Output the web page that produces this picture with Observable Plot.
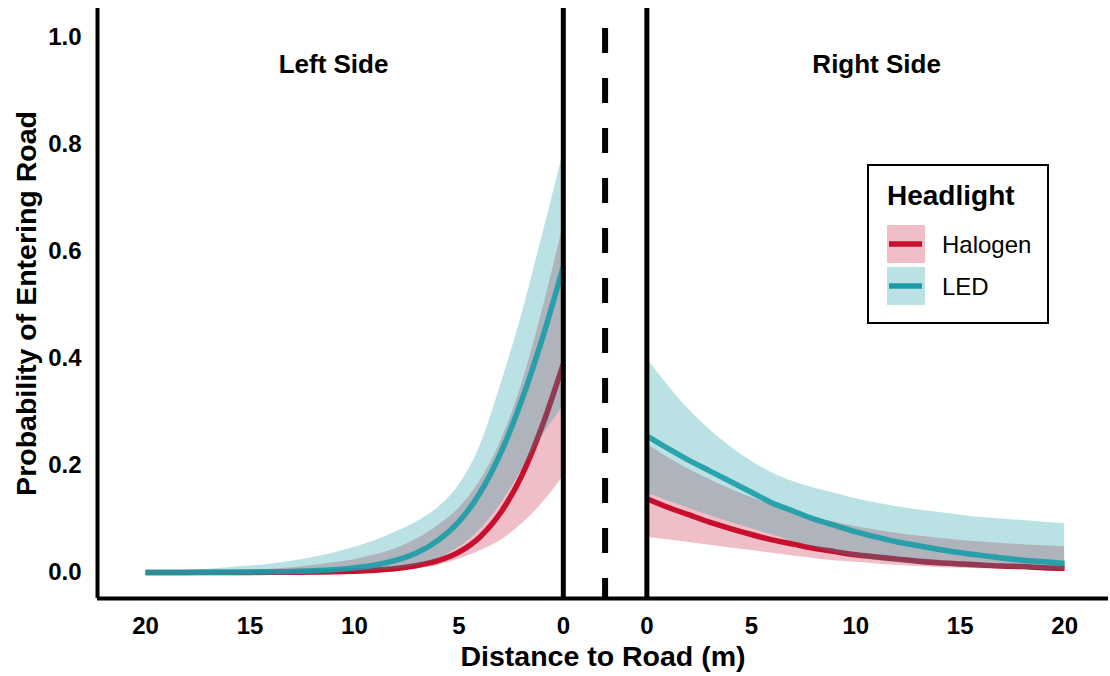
<!DOCTYPE html>
<html>
<head>
<meta charset="utf-8">
<script src="https://cdn.jsdelivr.net/npm/d3@7"></script>
<script src="https://cdn.jsdelivr.net/npm/@observablehq/plot@0.6"></script>
<style>
  body { margin: 0; background: #fff; }
  #chart { position: relative; width: 1110px; height: 676px; font-family: "Liberation Sans", Arial, sans-serif; }
  #legend { position: absolute; left: 867px; top: 164px; }
</style>
</head>
<body>
<div id="chart"></div>
<script>
// Distance from the road edge (m), the same grid on both sides
const distance = [0,1,2,3,4,5,6,7,8,9,10,11,12,13,14,15,16,17,18,19,20];

// Left side: predicted probability and 95% band
const ledLeftMean  = [0.572,0.438,0.321,0.223,0.148,0.095,0.06,0.037,0.023,0.014,0.0086,0.0052,0.0032,0.0019,0.0012,0.0007,0.0004,0.0003,0.0002,0.0001,0.0001];
const ledLeftLow   = [0.31,0.255,0.19,0.128,0.08,0.047,0.026,0.013,0.007,0.004,0.002,0.0012,0.0007,0.0004,0.0002,0.0001,0.0001,0,0,0,0];
const ledLeftHigh  = [0.785,0.63,0.48,0.35,0.235,0.163,0.121,0.095,0.076,0.06,0.047,0.036,0.028,0.021,0.016,0.012,0.009,0.006,0.004,0.003,0.002];
const halLeftMean  = [0.39,0.275,0.18,0.112,0.066,0.038,0.022,0.013,0.0075,0.0043,0.0025,0.0014,0.0008,0.0005,0.0003,0.0002,0.0001,0.0001,0,0,0];
const halLeftLow   = [0.18,0.13,0.09,0.06,0.04,0.025,0.013,0.007,0.004,0.002,0.001,0.0005,0.0002,0.0001,0,0,0,0,0,0,0];
const halLeftHigh  = [0.65,0.49,0.35,0.245,0.17,0.12,0.088,0.063,0.045,0.033,0.024,0.018,0.013,0.009,0.006,0.004,0.003,0.002,0.0015,0.001,0.001];

// Right side: predicted probability and 95% band
const ledRightMean = [0.255,0.232,0.21,0.19,0.17,0.15,0.13,0.115,0.10,0.088,0.076,0.066,0.057,0.05,0.043,0.037,0.032,0.027,0.023,0.02,0.017];
const ledRightLow  = [0.148,0.134,0.12,0.107,0.094,0.082,0.07,0.058,0.047,0.037,0.029,0.023,0.018,0.015,0.012,0.01,0.008,0.007,0.006,0.005,0.004];
const ledRightHigh = [0.40,0.35,0.305,0.267,0.235,0.208,0.186,0.17,0.158,0.148,0.138,0.13,0.123,0.117,0.112,0.107,0.103,0.10,0.097,0.094,0.091];
const halRightMean = [0.138,0.122,0.108,0.094,0.082,0.071,0.061,0.053,0.045,0.039,0.033,0.029,0.025,0.021,0.018,0.016,0.014,0.012,0.011,0.009,0.008];
const halRightLow  = [0.066,0.061,0.056,0.051,0.046,0.041,0.036,0.031,0.026,0.022,0.019,0.016,0.013,0.011,0.009,0.008,0.007,0.006,0.005,0.004,0.003];
const halRightHigh = [0.24,0.215,0.193,0.174,0.156,0.14,0.126,0.114,0.103,0.094,0.086,0.079,0.073,0.068,0.064,0.06,0.057,0.054,0.052,0.05,0.048];

const seriesNames = ["Halogen", "LED"];
const seriesColors = ["#C8102E", "#1A9CA6"];
const sideNames = ["Left Side", "Right Side"];
const tickDistances = [20, 15, 10, 5, 0];
const yTicks = [0, 0.2, 0.4, 0.6, 0.8, 1.0];

// Both sides share one x axis: the left side runs outwards to the left,
// the right side outwards to the right, with the road in between.
const ROAD = 2;
const toU = (side, d) => side === "left" ? -(d + ROAD) : d + ROAD;

const table = [
  ["LED", "left", ledLeftMean, ledLeftLow, ledLeftHigh],
  ["LED", "right", ledRightMean, ledRightLow, ledRightHigh],
  ["Halogen", "left", halLeftMean, halLeftLow, halLeftHigh],
  ["Halogen", "right", halRightMean, halRightLow, halRightHigh]
];
const rows = table.flatMap(([series, side, mean, lo, hi]) =>
  distance.map((d, i) => ({series, side, d, u: toU(side, d), mean: mean[i], lo: lo[i], hi: hi[i]}))
).sort((a, b) => a.u - b.u);

const xTickPos = [...tickDistances.map(d => toU("left", d)), ...tickDistances.slice().reverse().map(d => toU("right", d))];
const xTickText = new Map(xTickPos.map(u => [u, String(Math.abs(u) - ROAD)]));

const xDomain = [-24.3, 24.1];
const yDomain = [-0.0486, 1.054];
const curve = "monotone-x";

const bySeries = s => rows.filter(r => r.series === s);
const color = s => seriesColors[seriesNames.indexOf(s)];

const chart = Plot.plot({
  width: 1110,
  height: 676,
  marginTop: 8,
  marginBottom: 78,
  marginLeft: 97,
  marginRight: 2,
  style: {fontFamily: "'Liberation Sans', Arial, sans-serif", fontSize: "24px", fontWeight: "bold", color: "#000", background: "#fff"},
  x: {domain: xDomain, label: null},
  y: {domain: yDomain, label: null},
  marks: [
    Plot.areaY(bySeries("Halogen"), {x: "u", y1: "lo", y2: "hi", z: "side", fill: color("Halogen"), fillOpacity: 0.27, curve}),
    Plot.lineY(bySeries("Halogen"), {x: "u", y: "mean", z: "side", stroke: color("Halogen"), strokeWidth: 5.5, strokeLinecap: "butt", curve}),
    Plot.areaY(bySeries("LED"), {x: "u", y1: "lo", y2: "hi", z: "side", fill: color("LED"), fillOpacity: 0.3, curve}),
    Plot.lineY(bySeries("LED"), {x: "u", y: "mean", z: "side", stroke: color("LED"), strokeWidth: 5.5, strokeOpacity: 0.9, strokeLinecap: "butt", curve}),
    // axis lines
    Plot.ruleX([xDomain[0]], {stroke: "#000", strokeWidth: 4}),
    Plot.ruleY([yDomain[0]], {stroke: "#000", strokeWidth: 4}),
    // road edges and centre line
    Plot.ruleX([-ROAD, ROAD], {stroke: "#000", strokeWidth: 5}),
    Plot.ruleX([0], {stroke: "#000", strokeWidth: 6, strokeDasharray: "25,25", strokeDashoffset: 30}),
    Plot.axisY(yTicks, {tickSize: 0, tickPadding: 16, tickFormat: d3.format(".1f"), label: null, fontSize: 24, fontWeight: "bold"}),
    Plot.axisX(xTickPos, {tickSize: 0, tickPadding: 18, tickFormat: u => xTickText.get(u), label: null, fontSize: 24, fontWeight: "bold"}),
    Plot.text(sideNames, {x: (d, i) => toU(i === 0 ? "left" : "right", 11), frameAnchor: "top", dy: 64, lineAnchor: "bottom", fontSize: 26, fontWeight: "bold"}),
    Plot.text(["Distance to Road (m)"], {frameAnchor: "bottom", dy: 67, lineAnchor: "bottom", fontSize: 28.5, fontWeight: "bold"}),
    Plot.text(["Probability of Entering Road"], {frameAnchor: "left", textAnchor: "middle", rotate: -90, dx: -62, lineAnchor: "bottom", fontSize: 28.5, fontWeight: "bold"})
  ]
});

const root = document.getElementById("chart");
root.appendChild(chart);

// Legend: ribbon swatch with the line drawn across it
const legend = d3.select(root).append("svg")
  .attr("id", "legend").attr("width", 182).attr("height", 160)
  .style("font-family", "'Liberation Sans', Arial, sans-serif");
legend.append("rect").attr("x", 1).attr("y", 1).attr("width", 180).attr("height", 158)
  .attr("fill", "#fff").attr("stroke", "#000").attr("stroke-width", 2);
legend.append("text").attr("x", 20).attr("y", 41).attr("font-size", 28).attr("font-weight", "bold").text("Headlight");
seriesNames.forEach((s, i) => {
  const top = 61 + i * 42;
  legend.append("rect").attr("x", 20).attr("y", top).attr("width", 38).attr("height", 38)
    .attr("fill", seriesColors[i]).attr("fill-opacity", i === 0 ? 0.27 : 0.3);
  legend.append("line").attr("x1", 22).attr("x2", 55).attr("y1", top + 19).attr("y2", top + 19)
    .attr("stroke", seriesColors[i]).attr("stroke-width", 5.5);
  legend.append("text").attr("x", 75).attr("y", top + 28).attr("font-size", 24).text(s);
});
</script>
</body>
</html>
